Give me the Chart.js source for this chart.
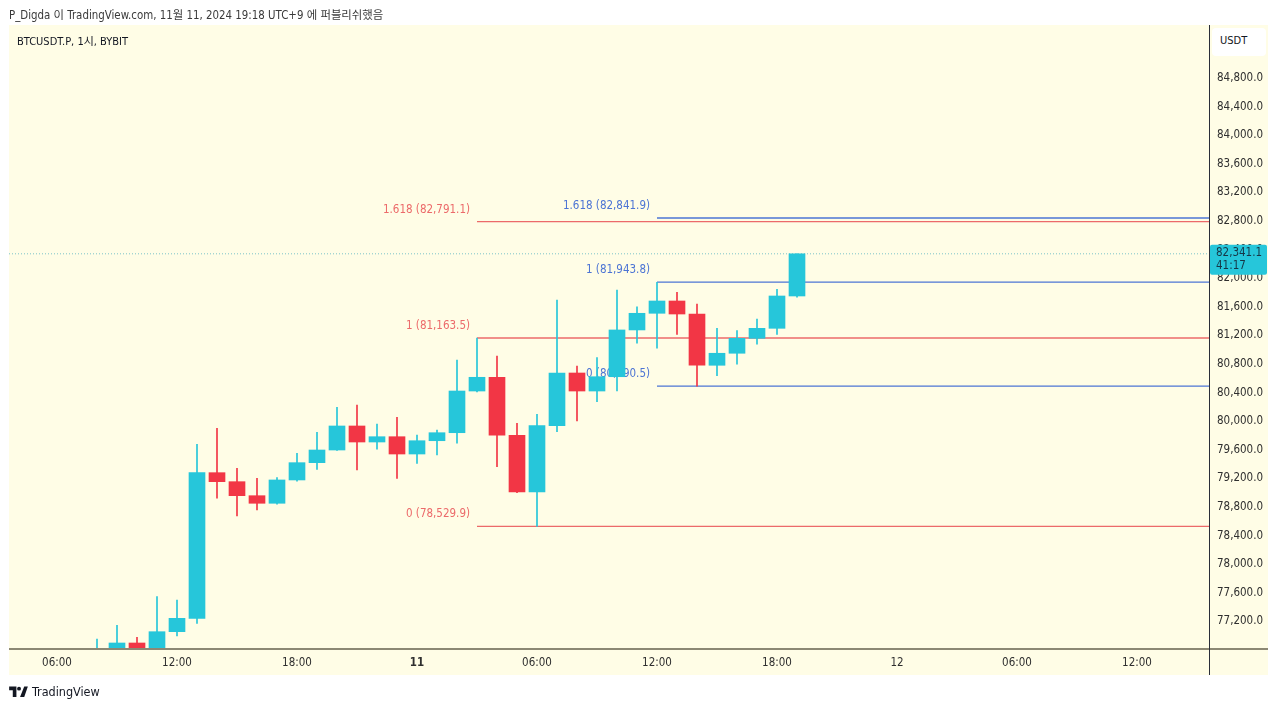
<!DOCTYPE html>
<html>
<head>
<meta charset="utf-8">
<script src="https://cdn.jsdelivr.net/npm/chart.js@4/dist/chart.umd.min.js"></script>
<style>
  html, body { margin: 0; padding: 0; background: #ffffff; }
  #wrap { position: relative; width: 1280px; height: 709px; overflow: hidden; }
  canvas { position: absolute; left: 0; top: 0; }
  .txt { position: absolute; white-space: nowrap; font-family: "DejaVu Sans Condensed", "Noto Sans", "Noto Sans CJK KR", sans-serif; }
  #hdr { left: 9px; top: 6px; font-size: 11.4px; color: #3a3a3a; font-family: "DejaVu Sans Condensed", "Noto Sans CJK KR", sans-serif; }
  #ttl { left: 17px; top: 32px; font-size: 11px; color: #131722; }
  #usdt { left: 1212px; top: 28px; width: 54px; height: 28px; background: #ffffff; border-radius: 4px; }
  #usdtt { left: 1220px; top: 34px; font-size: 11px; color: #131722; }
  #foot { left: 9px; top: 684px; font-size: 12.5px; color: #131722; display: flex; align-items: center; }
  #foot svg { margin-right: 4px; }
</style>
</head>
<body>
<div id="wrap">
  <canvas id="c" width="1280" height="709"></canvas>
  <div class="txt" id="hdr">P_Digda 이 TradingView.com, 11월 11, 2024 19:18 UTC+9 에 퍼블리쉬했음</div>
  <div class="txt" id="ttl">BTCUSDT.P, 1시, BYBIT</div>
  <div class="txt" id="usdt"></div>
  <div class="txt" id="usdtt">USDT</div>
  <div class="txt" id="foot"><svg width="19" height="13" viewBox="0 0 36 25"><path d="M14 23H7V10H0V3h14z M29 23h-8l8-20h7z" fill="#131722"/><circle cx="19" cy="7" r="3.8" fill="#131722"/></svg>TradingView</div>
</div>
<script>
// ---- data (hour index counted from 2024-11-10 00:00) ----
const hours  = [8,9,10,11,12,13,14,15,16,17,18,19,20,21,22,23,24,25,26,27,28,29,30,31,32,33,34,35,36,37,38,39,40,41,42,43];
const opens  = [76650,76760,76898,76790,77056,77243,79280,79154,78958,78852,79178,79420,79597,79933,79709,79783,79541,79727,79839,80422,80614,79803,79010,79937,80674,80422,80622,81276,81509,81681,81499,80782,80950,81159,81299,81751];
const highs  = [76954,77145,76978,77546,77499,79677,79901,79341,79201,79210,79551,79845,80194,80227,79961,80055,79807,79877,80856,81163.5,80912,79971,80097,81695,80772,80888,81835,81601,81943.8,81803,81639,81299,81266,81429,81845,82341.1];
const lows   = [76500,76700,76700,76740,76996,77173,78922,78674,78758,78840,79160,79327,79590,79317,79607,79201,79411,79527,79691,80410,79364,79000,78529.9,79853,80003,80273,80422,81090,81020,81215,80490.5,80636,80796,81076,81215,81733];
const closes = [76790,76898,76790,77056,77243,79280,79154,78958,78852,79178,79420,79597,79933,79709,79783,79541,79727,79839,80422,80614,79803,79010,79937,80674,80422,80622,81276,81509,81681,81499,80782,80950,81159,81299,81751,82341.1];

const xTickHours  = [6,12,18,24,30,36,42,48,54,60];
const xTickLabels = ["06:00","12:00","18:00","11","06:00","12:00","18:00","12","06:00","12:00"];
const yTicks = [77200,77600,78000,78400,78800,79200,79600,80000,80400,80800,81200,81600,82000,82400,82800,83200,83600,84000,84400,84800];

const fibRedAnchor = 27;
const fibRedLevels = [0, 1, 1.618];
const fibRedValues = [78529.9, 81163.5, 82791.1];
const fibBlueAnchor = 36;
const fibBlueLevels = [0, 1, 1.618];
const fibBlueValues = [80490.5, 81943.8, 82841.9];

const countdown = "41:17";

// ---- styling ----
const UP = '#26c6da', DOWN = '#f23645';
const FIB_RED = '#ec6a6a', FIB_BLUE = '#4c74d4';
const FONT = '"DejaVu Sans Condensed", "Noto Sans", sans-serif';
const X_MIN = 3.6, X_MAX = 63.6;
const lastClose = closes[closes.length - 1];

const candleColors = opens.map((o, i) => closes[i] >= o ? UP : DOWN);
const bodies = hours.map((h, i) => ({ x: h, y: [opens[i], closes[i]] }));
const wicks  = hours.map((h, i) => ({ x: h, y: [lows[i], highs[i]] }));

function fmt(v) { return v.toLocaleString('en-US', { minimumFractionDigits: 1, maximumFractionDigits: 1 }); }

function fibLineSets(anchor, values, color) {
  return values.map(v => ({
    type: 'line', data: [{ x: anchor, y: v }, { x: X_MAX, y: v }],
    borderColor: color, borderWidth: 1.3, pointRadius: 0, order: 5, parsing: false
  }));
}

const bgPlugin = {
  id: 'bg',
  beforeDraw(chart) {
    const c = chart.ctx;
    c.save();
    c.fillStyle = '#fffde6';
    c.fillRect(9, 25, 1259, 650);
    c.restore();
  },
  beforeDatasetsDraw(chart) {
    const c = chart.ctx, xs = chart.scales.x, ys = chart.scales.y;
    c.save();
    c.font = '11.5px ' + FONT;
    c.textAlign = 'right';
    c.textBaseline = 'middle';
    const draw = (anchor, levels, values, color) => {
      const px = xs.getPixelForValue(anchor) - 7;
      c.fillStyle = color;
      levels.forEach((l, i) => {
        c.fillText(String(l) + ' (' + fmt(values[i]) + ')', px, ys.getPixelForValue(values[i]) - 12);
      });
    };
    draw(fibRedAnchor, fibRedLevels, fibRedValues, FIB_RED);
    draw(fibBlueAnchor, fibBlueLevels, fibBlueValues, FIB_BLUE);
    c.restore();
  },
  afterDraw(chart) {
    const c = chart.ctx, ys = chart.scales.y, a = chart.chartArea;
    c.save();
    c.strokeStyle = '#8c8874'; c.lineWidth = 2;
    c.beginPath(); c.moveTo(9, a.bottom); c.lineTo(1268, a.bottom); c.stroke();
    c.strokeStyle = '#2a2e39'; c.lineWidth = 1;
    c.beginPath(); c.moveTo(a.right + 0.5, 25); c.lineTo(a.right + 0.5, 675); c.stroke();
    const py = ys.getPixelForValue(lastClose);
    c.fillStyle = UP;
    c.beginPath();
    if (c.roundRect) c.roundRect(a.right + 1, py - 9, 57, 30, 2); else c.rect(a.right + 1, py - 9, 57, 30);
    c.fill();
    c.fillStyle = '#163646';
    c.font = '11.5px ' + FONT;
    c.textAlign = 'left'; c.textBaseline = 'middle';
    c.fillText(fmt(lastClose), a.right + 7, py - 1);
    c.fillText(countdown, a.right + 7, py + 12);
    c.restore();
  }
};

new Chart(document.getElementById('c'), {
  type: 'bar',
  data: {
    datasets: [
      { type: 'bar', data: bodies, backgroundColor: candleColors, barThickness: 16, grouped: false, order: 1, borderSkipped: false, minBarLength: 1 },
      { type: 'bar', data: wicks, backgroundColor: candleColors, barThickness: 1, grouped: false, order: 2, borderSkipped: false },
      ...fibLineSets(fibRedAnchor, fibRedValues, FIB_RED),
      ...fibLineSets(fibBlueAnchor, fibBlueValues, FIB_BLUE),
      { type: 'line', data: [{ x: X_MIN, y: lastClose }, { x: X_MAX, y: lastClose }], borderColor: '#7cc3c8', borderWidth: 1, borderDash: [1, 2], pointRadius: 0, order: 6, parsing: false }
    ]
  },
  options: {
    responsive: false,
    animation: false,
    events: [],
    layout: { padding: { left: 9, top: 25, right: 12, bottom: 34 } },
    plugins: { legend: { display: false }, tooltip: { enabled: false } },
    scales: {
      x: {
        type: 'linear', min: X_MIN, max: X_MAX, offset: false,
        grid: { display: false, drawTicks: false },
        border: { display: false },
        afterBuildTicks(s) { s.ticks = xTickHours.map(v => ({ value: v })); },
        afterFit(s) { s.height = 26; },
        ticks: {
          autoSkip: false, maxRotation: 0, padding: 7, color: '#2f2f2f',
          font: (ctx) => {
            const lbl = ctx.tick ? xTickLabels[xTickHours.indexOf(ctx.tick.value)] : '';
            return { family: FONT, size: 11.5, weight: lbl === '11' ? 'bold' : 'normal' };
          },
          callback: (v) => { const i = xTickHours.indexOf(v); return i >= 0 ? xTickLabels[i] : ''; }
        }
      },
      y: {
        type: 'linear', position: 'right', min: 76814, max: 85541,
        grid: { display: false, drawTicks: false },
        border: { display: false },
        afterBuildTicks(s) { s.ticks = yTicks.map(v => ({ value: v })); },
        afterFit(s) { s.width = 59; },
        ticks: {
          autoSkip: false, padding: 8, color: '#2f2f2f', crossAlign: 'near',
          font: { family: FONT, size: 11.5 },
          callback: (v) => fmt(v)
        }
      }
    }
  },
  plugins: [bgPlugin]
});
</script>
</body>
</html>
